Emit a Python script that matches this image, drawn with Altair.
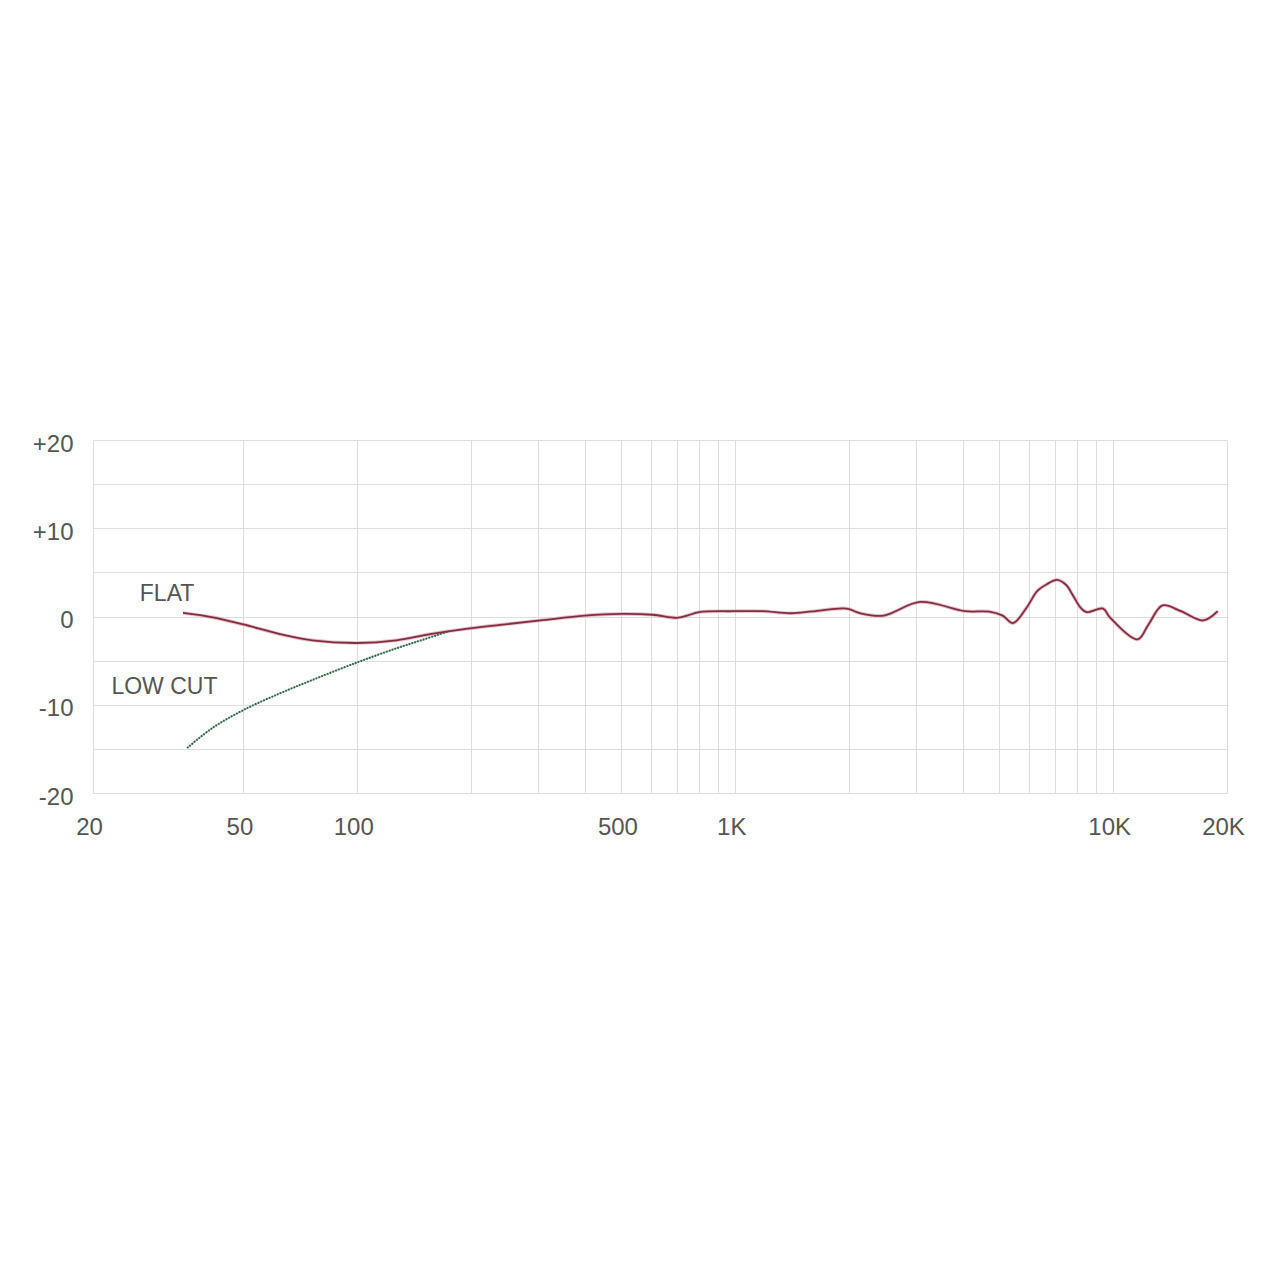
import altair as alt
import pandas as pd

# FLAT response (Hz, dB)
flat_freq = [34.6, 41.5, 50, 62.5, 76, 100, 127, 156, 190, 239, 305, 400, 500, 605,
             701, 746, 803, 985, 1180, 1400, 1600, 1970, 2140, 2470, 3080, 4060, 4700,
             5100, 5430, 5900, 6300, 6700, 7100, 7500, 7800, 8200, 8500, 9400, 9800,
             11600, 12400, 13500, 15100, 17300, 18900]
flat_db = [0.4, -0.1, -0.9, -2.0, -2.7, -3.0, -2.7, -2.0, -1.45, -0.95, -0.45, 0.1, 0.3, 0.2,
           -0.15, 0.1, 0.5, 0.6, 0.6, 0.37, 0.57, 0.9, 0.37, 0.1, 1.65, 0.6, 0.55,
           0.1, -0.75, 1.0, 2.9, 3.7, 4.15, 3.6, 2.5, 1.0, 0.5, 0.9, -0.1,
           -2.6, -0.9, 1.25, 0.6, -0.45, 0.6]

# LOW CUT response (Hz, dB)
low_freq = [35.5, 41.5, 50, 62.5, 76, 100, 127, 150, 175]
low_db = [-14.9, -12.6, -10.6, -8.7, -7.2, -5.2, -3.6, -2.6, -1.65]

# curve names and where they are written (Hz, dB)
label_text = ["FLAT", "LOW CUT"]
label_freq = [31.4, 30.9]
label_db = [2.55, -8.0]

x_grid = [20, 50, 100, 200, 300, 400, 500, 600, 700, 800, 900, 1000,
          2000, 3000, 4000, 5000, 6000, 7000, 8000, 9000, 10000, 20000]
x_labels = {20: "20", 50: "50", 100: "100", 500: "500", 1000: "1K", 10000: "10K", 20000: "20K"}
y_grid = [-20, -15, -10, -5, 0, 5, 10, 15, 20]

flat_df = pd.DataFrame({"freq": flat_freq, "db": flat_db})
low_df = pd.DataFrame({"freq": low_freq, "db": low_db})
lab_df = pd.DataFrame({"text": label_text, "freq": label_freq, "db": label_db})

label_expr = " : ".join(f"datum.value == {k} ? '{v}'" for k, v in x_labels.items()) + " : ''"

font = "Liberation Sans, Arial"
grid_color = "#dedede"
text_color = "#555555"

x_scale = alt.Scale(type="log", domain=[20, 20000], nice=False)
y_scale = alt.Scale(domain=[-20, 20], nice=False)

x_axis = alt.Axis(values=x_grid, labelExpr=label_expr, title=None, grid=True,
                  gridColor=grid_color, gridWidth=1, domain=False, ticks=False,
                  labelFont=font, labelFontSize=24, labelColor=text_color,
                  labelPadding=22, labelFlush=False, labelOverlap=False, labelOffset=-4)
y_axis = alt.Axis(values=y_grid,
                  labelExpr="datum.value % 10 != 0 ? '' : (datum.value > 0 ? '+' + datum.value : '' + datum.value)",
                  title=None, grid=True, gridColor=grid_color, gridWidth=1, domain=False,
                  ticks=False, labelFont=font, labelFontSize=24, labelColor=text_color,
                  labelPadding=20, labelFlush=False, labelOverlap=False, labelOffset=4)

base_flat = alt.Chart(flat_df).encode(
    x=alt.X("freq:Q", scale=x_scale, axis=x_axis),
    y=alt.Y("db:Q", scale=y_scale, axis=y_axis),
)
flat_halo = base_flat.mark_line(interpolate="catmull-rom", color="#e3a3b4", strokeWidth=3.6, opacity=0.7)
flat_line = base_flat.mark_line(interpolate="catmull-rom", color="#7e2f40", strokeWidth=1.8)

base_low = alt.Chart(low_df).encode(
    x=alt.X("freq:Q", scale=x_scale),
    y=alt.Y("db:Q", scale=y_scale),
)
low_under = base_low.mark_line(interpolate="catmull-rom", color="#8cc7a4", strokeWidth=1.4)
low_dots = base_low.mark_line(interpolate="catmull-rom", color="#3d5647", strokeWidth=2,
                              strokeDash=[1.5, 1.5])

labels = alt.Chart(lab_df).mark_text(
    font=font, fontSize=23, color=text_color, align="center", baseline="middle"
).encode(
    x=alt.X("freq:Q", scale=x_scale),
    y=alt.Y("db:Q", scale=y_scale),
    text="text:N",
)

chart = alt.layer(flat_halo, low_under, low_dots, flat_line, labels).properties(
    width=1134,
    height=353,
    autosize=alt.AutoSizeParams(type="none"),
    padding={"left": 85, "top": 432, "right": 40, "bottom": 120},
    background="white",
).configure_view(stroke=None)

chart.save("out.html", embed_options={"renderer": "svg", "actions": False})
